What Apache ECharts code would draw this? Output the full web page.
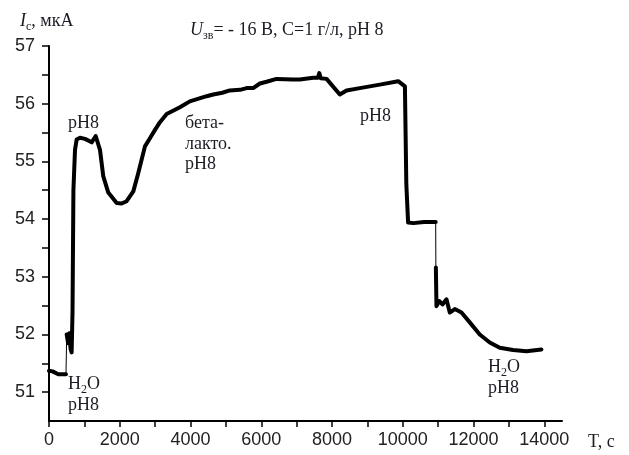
<!DOCTYPE html>
<html>
<head>
<meta charset="utf-8">
<script src="https://cdn.jsdelivr.net/npm/echarts@6/dist/echarts.min.js"></script>
<style>
html, body { margin: 0; padding: 0; background: #fff; }
#container { width: 629px; height: 455px; }
</style>
</head>
<body>
<div id="container"></div>
<script>
// time, s
var times = [0, 100, 263, 480, 490, 500, 540, 570, 610, 640, 665, 690, 735, 782,
    876, 1017, 1206, 1320, 1365, 1441, 1535, 1676, 1912, 2053, 2194, 2383, 2524, 2712,
    2853, 3000, 3136, 3325, 3700, 3980, 4455, 4642, 4900, 5110, 5400, 5585, 5772,
    5960, 6150, 6430, 6900, 7090, 7470, 7600, 7640, 7680, 7845, 8220, 8410, 8785,
    9350, 9870, 10060, 10085, 10100, 10150, 10300, 10600, 10930, 10935, 10952,
    11027, 11122, 11235, 11328, 11470, 11659, 11893, 12176, 12458, 12741, 13117,
    13495, 13918];
// current, uA
var current = [51.37, 51.36, 51.31, 51.31, 51.63, 52.0, 51.85, 52.02, 51.75, 51.69, 52.4, 54.5, 55.2, 55.38,
    55.41, 55.39, 55.33, 55.44, 55.45, 55.2, 54.74, 54.46, 54.28, 54.27, 54.31, 54.48, 54.8, 55.26,
    55.4, 55.55, 55.68, 55.82, 55.94, 56.04, 56.13, 56.16, 56.19, 56.23, 56.24, 56.27, 56.27,
    56.35, 56.38, 56.43, 56.42, 56.42, 56.45, 56.45, 56.53, 56.44, 56.43, 56.16, 56.23, 56.27,
    56.33, 56.39, 56.3, 56.28, 54.6, 53.94, 53.93, 53.95, 53.95, 53.16, 52.49,
    52.58, 52.52, 52.61, 52.38, 52.44, 52.38, 52.21, 52.0, 51.86, 51.77, 51.73,
    51.71, 51.74];
// parts of the record drawn with a thin line
var thinSpans = [[480, 500], [10930, 10935]];

var xLabels = [0, 2000, 4000, 6000, 8000, 10000, 12000, 14000];
var xTicks = [0, 1000, 2000, 3000, 4000, 5000, 6000, 7000, 8000, 9000, 10000, 11000, 12000, 13000, 14000];
var yLabels = [51, 52, 53, 54, 55, 56, 57];
var yTicks = [51, 51.5, 52, 52.5, 53, 53.5, 54, 54.5, 55, 55.5, 56, 56.5, 57];

function isThin(a, b) {
    return thinSpans.some(function(s) {
        return a >= s[0] && b <= s[1];
    });
}

var thinData = [];
var thickData = [];
for (var i = 0; i < times.length; i++) {
    thinData.push([times[i], current[i]]);
    thickData.push([times[i], current[i]]);
    if (i < times.length - 1 && isThin(times[i], times[i + 1])) {
        thickData.push([times[i], '-']);
    }
}

var serif = '"Liberation Serif", "Times New Roman", serif';
var sans = '"Liberation Sans", Arial, sans-serif';
var txtColor = '#1b1b24';

// text with baseline at y (main lineHeight 24, middle aligned)
function label(x, baseline, text) {
    return {
        type: 'text', left: x, top: baseline - 13,
        style: {
            text: text, fill: txtColor, font: '18px ' + serif,
            rich: {
                n: { fontSize: 18, fontFamily: serif, lineHeight: 24, verticalAlign: 'middle', fill: txtColor },
                i: { fontSize: 18, fontFamily: serif, fontStyle: 'italic', lineHeight: 24, verticalAlign: 'middle', fill: txtColor },
                s: { fontSize: 12, fontFamily: serif, lineHeight: 9, verticalAlign: 'bottom', fill: txtColor }
            }
        }
    };
}

var chart = echarts.init(document.getElementById('container'));

var option = {
    backgroundColor: '#fff',
    animation: false,
    grid: { left: 49, right: 67, top: 46, bottom: 34, containLabel: false },
    xAxis: {
        type: 'value', min: 0, max: 14500,
        axisLine: { lineStyle: { color: '#000', width: 2 } },
        axisTick: { customValues: xTicks, length: 6, lineStyle: { color: '#000', width: 1.5 } },
        axisLabel: {
            customValues: xLabels, margin: 10, color: '#222', fontFamily: sans, fontSize: 18,
            formatter: function(v) { return String(v); }
        },
        splitLine: { show: false }
    },
    yAxis: {
        type: 'value', min: 50.5, max: 57,
        axisLine: { show: true, lineStyle: { color: '#000', width: 2 } },
        axisTick: { show: true, customValues: yTicks, length: 7, lineStyle: { color: '#000', width: 1.5 } },
        axisLabel: { customValues: yLabels, margin: 14, color: '#222', fontFamily: sans, fontSize: 18 },
        splitLine: { show: false }
    },
    series: [{
        type: 'line', data: thinData, showSymbol: false, silent: true,
        lineStyle: { color: '#000', width: 1 }
    }, {
        type: 'line', data: thickData, showSymbol: false, silent: true, connectNulls: false,
        lineStyle: { color: '#000', width: 4, join: 'round', cap: 'round' }
    }],
    graphic: [
        label(20, 25, '{i|I}{s|c}{n|, мкА}'),
        label(190, 34, '{i|U}{s|зв}{n|= - 16 В, C=1 г/л, pH 8}'),
        label(588, 446, '{n|T, c}'),
        label(68, 127, '{n|pH8}'),
        label(185, 127, '{n|бета-}'),
        label(185, 148, '{n|лакто.}'),
        label(185, 168, '{n|pH8}'),
        label(360, 120, '{n|pH8}'),
        label(68, 388, '{n|H}{s|2}{n|O}'),
        label(68, 409, '{n|pH8}'),
        label(488, 371, '{n|H}{s|2}{n|O}'),
        label(488, 392, '{n|pH8}')
    ]
};

chart.setOption(option);
</script>
</body>
</html>
